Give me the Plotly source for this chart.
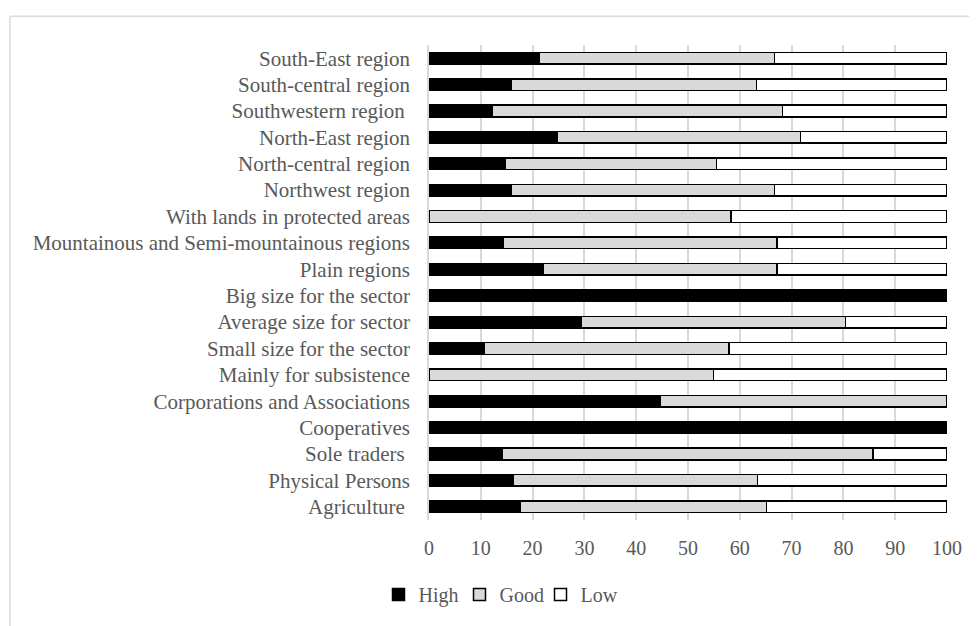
import plotly.graph_objects as go

categories = [
    "South-East region",
    "South-central region",
    "Southwestern region\u00a0",
    "North-East region",
    "North-central region",
    "Northwest region",
    "With lands in protected areas",
    "Mountainous and Semi-mountainous regions",
    "Plain regions",
    "Big size for the sector",
    "Average size for sector",
    "Small size for the sector",
    "Mainly for subsistence",
    "Corporations and Associations",
    "Cooperatives",
    "Sole traders\u00a0",
    "Physical Persons",
    "Agriculture\u00a0",
]

high = [21.2, 15.9, 12.3, 24.7, 14.8, 15.8, 0.0, 14.3, 22.1, 100.0,
        29.4, 10.6, 0.0, 44.6, 100.0, 14.2, 16.2, 17.6]
good = [45.5, 47.3, 55.9, 47.0, 40.7, 50.9, 58.3, 52.9, 45.1, 0.0,
        51.0, 47.3, 54.9, 55.4, 0.0, 71.5, 47.2, 47.6]
low = [33.3, 36.8, 31.8, 28.3, 44.5, 33.3, 41.7, 32.8, 32.8, 0.0,
       19.6, 42.1, 45.1, 0.0, 0.0, 14.3, 36.6, 34.8]

x_ticks = [0, 10, 20, 30, 40, 50, 60, 70, 80, 90, 100]

FONT = "Liberation Serif"
TXT = "#595959"

fig = go.Figure()
for name, vals, fill in [("High", high, "#000000"), ("Good", good, "#d9d9d9"), ("Low", low, "#ffffff")]:
    fig.add_trace(go.Bar(
        name=name, y=categories, x=vals, orientation="h",
        marker=dict(color=fill, line=dict(color="#000000", width=1.5)),
    ))

# page has an 8px body margin; lay out in page pixels
OFF = 8
W, H = 977 - OFF, 626 - OFF
PL, PR, PT, PB = 429, 947, 45, 523  # plot area in page pixels
L, T = PL - OFF, PT - OFF
R = W - (PR - OFF)
B = H - (PB - OFF)
pw, ph = PR - PL, PB - PT

def px2x(p):
    return (p - PL) / pw

def py2y(p):
    return (PB - p) / ph

fig.update_layout(
    width=W, height=H,
    barmode="stack", bargap=0.56,
    margin=dict(l=L, r=R, t=T, b=B, pad=0),
    paper_bgcolor="white", plot_bgcolor="white",
    font=dict(family=FONT, size=20, color=TXT),
    xaxis=dict(
        range=[0, 100], tickvals=x_ticks, ticktext=[str(v) for v in x_ticks],
        showgrid=True, gridcolor="#d9d9d9", gridwidth=1.5,
        zeroline=False, showline=False, ticks="", ticklabelstandoff=14,
        tickfont=dict(family=FONT, size=20, color=TXT),
    ),
    yaxis=dict(
        autorange="reversed", showgrid=False, zeroline=False,
        showline=True, linecolor="#d9d9d9", linewidth=1.5,
        ticks="", ticklabelstandoff=13,
        tickfont=dict(family=FONT, size=21, color=TXT),
    ),
    legend=dict(
        orientation="h", x=px2x(500), xanchor="center", y=py2y(598), yanchor="middle",
        font=dict(family=FONT, size=20, color=TXT), traceorder="normal",
        itemwidth=30, entrywidth=36, entrywidthmode="pixels",
    ),
    shapes=[
        dict(type="line", xref="paper", yref="paper", x0=px2x(10), x1=px2x(990),
             y0=py2y(16), y1=py2y(16), line=dict(color="#d9d9d9", width=1.5)),
        dict(type="line", xref="paper", yref="paper", x0=px2x(10), x1=px2x(10),
             y0=py2y(16), y1=py2y(640), line=dict(color="#d9d9d9", width=1.5)),
    ],
)

fig.write_html("out.html")
